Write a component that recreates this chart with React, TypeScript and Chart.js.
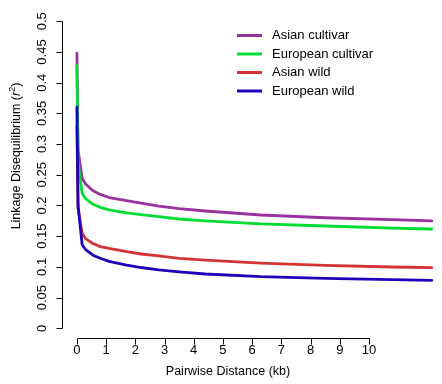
import React, { useEffect, useRef } from "react";
import { Chart, registerables } from "chart.js";

Chart.register(...registerables);

const distanceKb = [0, 0.04, 0.18, 0.3, 0.55, 0.8, 1.1, 1.7, 2.2, 2.8, 3.5, 4.4, 6.3, 8.5, 10.8, 12.15];
const asianCultivar = [0.448, 0.29, 0.244, 0.235, 0.224, 0.218, 0.213, 0.208, 0.204, 0.199, 0.195, 0.191, 0.1845, 0.18, 0.177, 0.175];
const europeanCultivar = [0.428, 0.27, 0.22, 0.211, 0.202, 0.197, 0.193, 0.188, 0.185, 0.182, 0.178, 0.175, 0.17, 0.1666, 0.163, 0.1617];
const asianWild = [0.33, 0.195, 0.155, 0.146, 0.138, 0.133, 0.13, 0.1248, 0.121, 0.1178, 0.114, 0.111, 0.1063, 0.1026, 0.0998, 0.0987];
const europeanWild = [0.36, 0.2, 0.136, 0.128, 0.119, 0.114, 0.109, 0.103, 0.099, 0.095, 0.092, 0.0884, 0.084, 0.0814, 0.0792, 0.0782];

const seriesLabels = ["Asian cultivar", "European cultivar", "Asian wild", "European wild"];
const seriesColors = ["#9932a0", "#00dd33", "#d33333", "#2200bb"];
const xTicks = [0, 1, 2, 3, 4, 5, 6, 7, 8, 9, 10];
const yTicks = [0, 0.05, 0.1, 0.15, 0.2, 0.25, 0.3, 0.35, 0.4, 0.45, 0.5];

const FAMILY = "'Liberation Sans', Arial, Helvetica, sans-serif";
const FONT = "13px " + FAMILY;
const TITLE_FONT = "12.5px " + FAMILY;

const axesPlugin = {
  id: "rAxes",
  afterDraw(chart: any) {
    const ctx = chart.ctx as CanvasRenderingContext2D;
    const xs = chart.scales.x;
    const ys = chart.scales.y;
    const area = chart.chartArea;
    ctx.save();
    ctx.strokeStyle = "#000";
    ctx.fillStyle = "#000";
    ctx.lineWidth = 1;
    ctx.font = FONT;

    // Y axis
    const ax = Math.round(area.left) + 0.5;
    ctx.beginPath();
    ctx.moveTo(ax, Math.round(ys.getPixelForValue(yTicks[0])) + 0.5);
    ctx.lineTo(ax, Math.round(ys.getPixelForValue(yTicks[yTicks.length - 1])) + 0.5);
    for (const t of yTicks) {
      const py = Math.round(ys.getPixelForValue(t)) + 0.5;
      ctx.moveTo(ax, py);
      ctx.lineTo(ax - 6, py);
    }
    ctx.stroke();
    ctx.textAlign = "center";
    ctx.textBaseline = "middle";
    for (const t of yTicks) {
      const py = ys.getPixelForValue(t);
      ctx.save();
      ctx.translate(42, py);
      ctx.rotate(-Math.PI / 2);
      ctx.fillText(String(t), 0, 0);
      ctx.restore();
    }

    // X axis
    const ay = Math.round(area.bottom) + 0.5;
    ctx.beginPath();
    ctx.moveTo(Math.round(xs.getPixelForValue(xTicks[0])) + 0.5, ay);
    ctx.lineTo(Math.round(xs.getPixelForValue(xTicks[xTicks.length - 1])) + 0.5, ay);
    for (const t of xTicks) {
      const px = Math.round(xs.getPixelForValue(t)) + 0.5;
      ctx.moveTo(px, ay);
      ctx.lineTo(px, ay + 6);
    }
    ctx.stroke();
    for (const t of xTicks) {
      ctx.fillText(String(t), xs.getPixelForValue(t), 350);
    }

    // X title
    ctx.font = TITLE_FONT;
    ctx.fillText("Pairwise Distance (kb)", 228, 372);

    // Y title with italic r and superscript 2
    ctx.save();
    ctx.translate(17, 156);
    ctx.rotate(-Math.PI / 2);
    const p1 = "Linkage Disequilibrium (";
    const p2 = "r";
    const p3 = "2";
    const p4 = ")";
    const italic = "italic " + TITLE_FONT;
    const small = "9px " + FAMILY;
    ctx.font = TITLE_FONT;
    const w1 = ctx.measureText(p1).width;
    ctx.font = italic;
    const w2 = ctx.measureText(p2).width;
    ctx.font = small;
    const w3 = ctx.measureText(p3).width;
    ctx.font = TITLE_FONT;
    const w4 = ctx.measureText(p4).width;
    const total = w1 + w2 + w3 + w4;
    let cx = -total / 2;
    ctx.textAlign = "left";
    ctx.font = TITLE_FONT;
    ctx.fillText(p1, cx, 0);
    cx += w1;
    ctx.font = italic;
    ctx.fillText(p2, cx, 0);
    cx += w2;
    ctx.font = small;
    ctx.fillText(p3, cx, -4);
    cx += w3;
    ctx.font = TITLE_FONT;
    ctx.fillText(p4, cx, 0);
    ctx.restore();

    // Legend
    ctx.font = FONT;
    ctx.textAlign = "left";
    ctx.textBaseline = "middle";
    ctx.lineCap = "butt";
    const legendY = [35.5, 54, 72.5, 91];
    chart.data.datasets.forEach((ds: any, i: number) => {
      const y = legendY[i];
      ctx.strokeStyle = ds.borderColor;
      ctx.lineWidth = 3;
      ctx.beginPath();
      ctx.moveTo(237, y);
      ctx.lineTo(262, y);
      ctx.stroke();
      ctx.fillStyle = "#000";
      ctx.fillText(ds.label, 272, y);
    });
    ctx.restore();
  },
};

export default function App() {
  const ref = useRef<HTMLCanvasElement | null>(null);
  useEffect(() => {
    if (!ref.current) return;
    const seriesValues = [asianCultivar, europeanCultivar, asianWild, europeanWild];
    const drawOrder = [4, 2, 3, 1];
    const chart = new Chart(ref.current, {
      type: "line",
      data: {
        datasets: seriesValues.map((vals, i) => ({
          label: seriesLabels[i],
          data: distanceKb.map((x, j) => ({ x, y: vals[j] })),
          borderColor: seriesColors[i],
          backgroundColor: seriesColors[i],
          borderWidth: 2.8,
          pointRadius: 0,
          tension: 0,
          fill: false,
          borderJoinStyle: "round" as const,
          borderCapStyle: "round" as const,
          order: drawOrder[i],
        })),
      },
      options: {
        animation: false,
        responsive: false,
        maintainAspectRatio: false,
        layout: { padding: { left: 62, top: 9, right: 0, bottom: 46 } },
        scales: {
          x: { type: "linear", min: -0.51, max: 12.5, display: false },
          y: { type: "linear", min: -0.0158, max: 0.52, display: false },
        },
        plugins: {
          legend: { display: false },
          tooltip: { enabled: false },
        },
      },
      plugins: [axesPlugin],
    });
    return () => chart.destroy();
  }, []);
  return (
    <div style={{ position: "fixed", left: 0, top: 0, width: 442, height: 384, background: "#fff" }}>
      <canvas ref={ref} width={442} height={384} style={{ width: 442, height: 384, display: "block" }} />
    </div>
  );
}
